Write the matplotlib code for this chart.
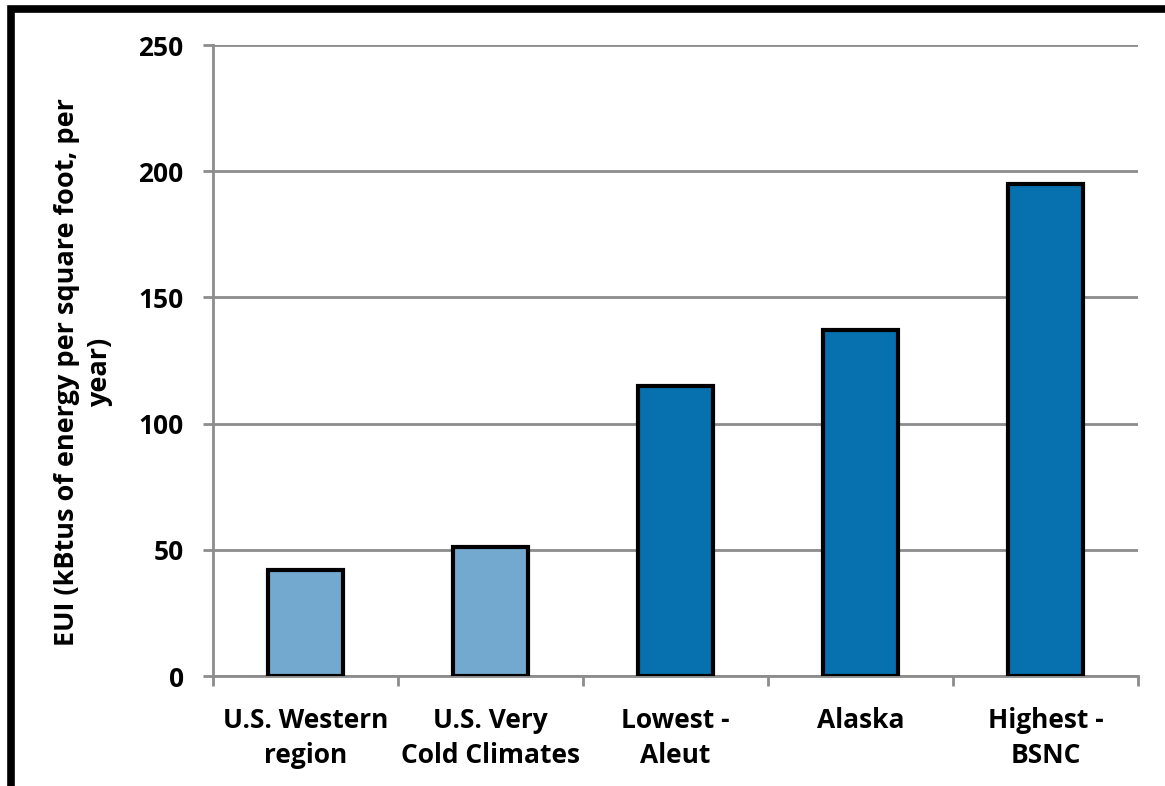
import numpy as np
import matplotlib.pyplot as plt
from matplotlib.patches import Rectangle

categories = ["U.S. Western\nregion", "U.S. Very\nCold Climates", "Lowest -\nAleut", "Alaska", "Highest -\nBSNC"]
eui = [42, 51, 115, 137, 195]
colors = ["#74a9cf", "#74a9cf", "#0770ae", "#0770ae", "#0770ae"]
yticks = [0, 50, 100, 150, 200, 250]

plt.rcParams['font.family'] = ['Open Sans', 'DejaVu Sans']
plt.rcParams['font.weight'] = 'bold'

fig = plt.figure(figsize=(11.65, 7.86), dpi=100)
ax = fig.add_axes([0.1828, 0.1399, 0.794, 0.8028])

x = np.arange(len(categories))
ax.bar(x, eui, width=0.405, color=colors, edgecolor='black', linewidth=3, zorder=3)

ax.set_xlim(-0.5, len(categories) - 0.5)
ax.set_ylim(0, 250)
ax.set_yticks(yticks)
ax.yaxis.grid(True, color='#8c8c8c', linewidth=2)
ax.set_axisbelow(True)

for s in ['top', 'right']:
    ax.spines[s].set_visible(False)
for s in ['left', 'bottom']:
    ax.spines[s].set_color('#8c8c8c')
    ax.spines[s].set_linewidth(2)

# category separators as ticks on the x axis
ax.set_xticks(np.arange(-0.5, len(categories), 1.0))
ax.set_xticklabels([])
ax.set_xticks(x, minor=True)
ax.set_xticklabels(categories, minor=True, fontsize=19, fontweight='bold', linespacing=1.4)
ax.tick_params(axis='x', which='major', length=7, width=2, color='#8c8c8c')
ax.tick_params(axis='x', which='minor', length=0, pad=22)
ax.tick_params(axis='y', length=7, width=2, color='#8c8c8c', labelsize=19, pad=14)
for t in ax.get_yticklabels():
    t.set_fontweight('bold')

ax.set_ylabel("EUI (kBtus of energy per square foot, per\nyear)", fontsize=19.5,
              fontweight='bold', linespacing=1.35)
ax.yaxis.set_label_coords(-0.108, 0.482)

# black frame around the figure (cut off at right and bottom)
fig.patches.append(Rectangle((0.0095, -0.05), 1.2, 1.038, transform=fig.transFigure,
                             fill=False, edgecolor='black', linewidth=5.5, zorder=10))

fig.savefig('out.png', dpi=100)
